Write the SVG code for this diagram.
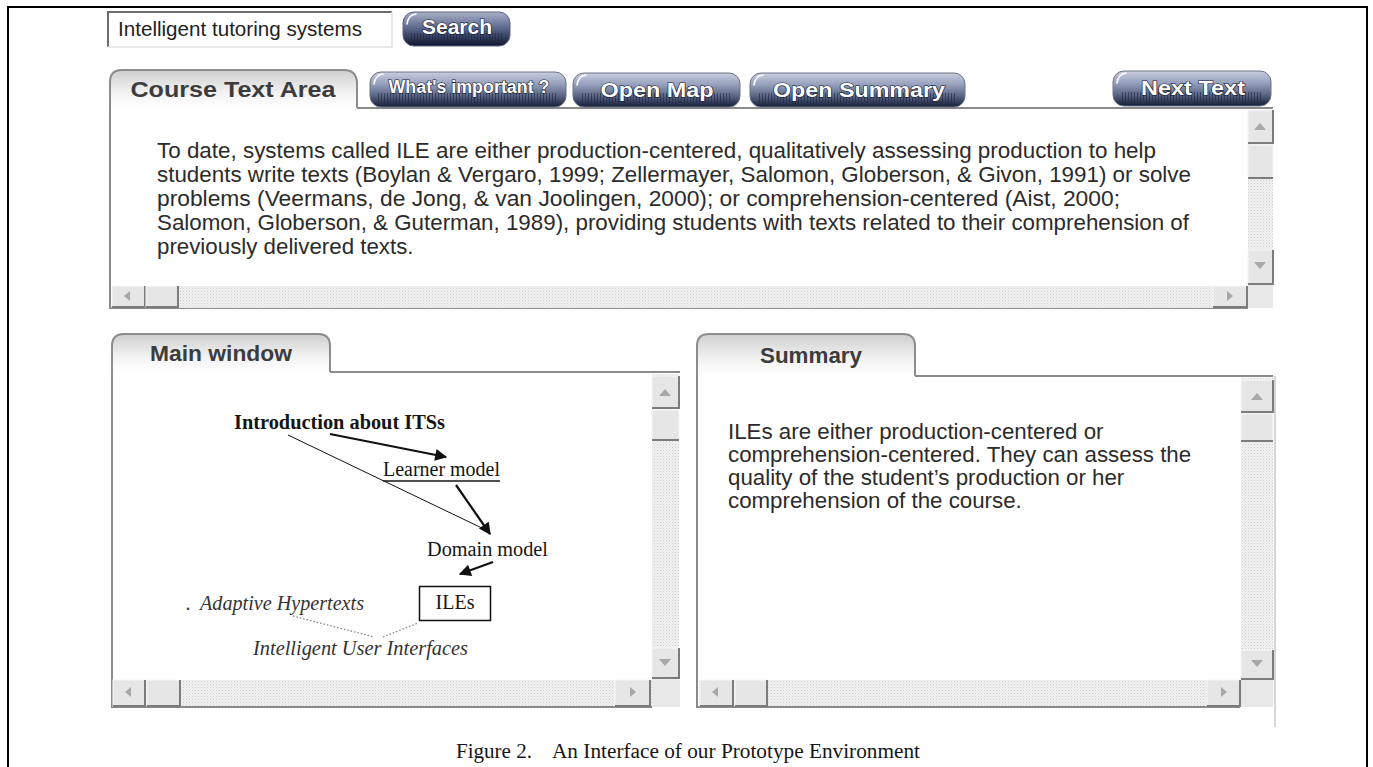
<svg xmlns="http://www.w3.org/2000/svg" width="1373" height="767" viewBox="0 0 1373 767">
<defs>
<style>
.sans{font-family:"Liberation Sans",Arial,sans-serif}
.body{font-family:"Liberation Sans",Arial,sans-serif;font-size:22.3px;fill:#2b2b2b}
.tabt{font-family:"Liberation Sans",Arial,sans-serif;font-size:22px;font-weight:bold;fill:#3c3c3c;text-anchor:middle}
.btnt{font-family:"Liberation Sans",Arial,sans-serif;font-weight:bold;fill:#ffffff;stroke:#0d1431;stroke-width:1.2px;paint-order:stroke;text-anchor:middle}
.ser{font-family:"Liberation Serif","Times New Roman",serif;font-size:20px;fill:#151515}
.it{font-style:italic;fill:#333}
.tab{fill:url(#tabGrad);stroke:#8c8c8c;stroke-width:2}
.edge{stroke:#8a8a8a;stroke-width:2;fill:none}
.track{fill:url(#dots)}
.sbtn{fill:#e6e6e6;stroke:#f8f8f8;stroke-width:1}
.sshade{fill:none;stroke:#7c7c7c;stroke-width:2}
.arr{fill:#a8a8a8}
.btn{fill:url(#btnGrad);stroke:#6d7288;stroke-width:1}
.gloss{fill:none;stroke:#ffffff;stroke-width:1.6;stroke-linecap:round}
.stripe{fill:url(#stripes);opacity:0.55}
.conn{stroke:#111;fill:none}
.dot{stroke:#8a7f86;stroke-width:1.3;stroke-dasharray:1.5 2;fill:none}
</style>
<linearGradient id="btnGrad" x1="0" y1="0" x2="0" y2="1">
<stop offset="0" stop-color="#c9cede"/>
<stop offset="0.35" stop-color="#959fbb"/>
<stop offset="0.7" stop-color="#56617f"/>
<stop offset="1" stop-color="#151c36"/>
</linearGradient>
<linearGradient id="searchGrad" x1="0" y1="0" x2="0" y2="1">
<stop offset="0" stop-color="#a9b1c9"/>
<stop offset="0.45" stop-color="#5f6b8e"/>
<stop offset="1" stop-color="#0f1631"/>
</linearGradient>
<linearGradient id="tabGrad" x1="0" y1="0" x2="0" y2="1">
<stop offset="0" stop-color="#cfcfcf"/>
<stop offset="0.6" stop-color="#f2f2f2"/>
<stop offset="1" stop-color="#ffffff"/>
</linearGradient>
<pattern id="dots" width="3" height="3" patternUnits="userSpaceOnUse">
<rect width="3" height="3" fill="#f1f1f1"/>
<rect width="1" height="1" fill="#cfcfcf"/>
<rect x="1.5" y="1.5" width="1" height="1" fill="#dadada"/>
</pattern>
<pattern id="stripes" width="3" height="4" patternUnits="userSpaceOnUse">
<rect width="1" height="4" fill="#1a2140"/>
</pattern>
<marker id="ah" viewBox="0 0 10 10" refX="9" refY="5" markerWidth="15" markerHeight="12" markerUnits="userSpaceOnUse" orient="auto">
<path d="M0,0 L10,5 L0,10 z" fill="#111"/>
</marker>
</defs>

<rect width="1373" height="767" fill="#ffffff"/>
<path d="M8,767 V7 H1367 V767" fill="none" stroke="#000" stroke-width="2"/>

<!-- search box -->
<g id="search-box">
<rect x="108" y="12" width="284" height="35" fill="#fff"/>
<path d="M108,47 V12 H392" fill="none" stroke="#6e6e6e" stroke-width="2"/>
<path d="M392,12 V47 H108" fill="none" stroke="#e2e2e2" stroke-width="1.5"/>
<text class="sans" x="118" y="36" font-size="20" fill="#222" textLength="244" lengthAdjust="spacingAndGlyphs">Intelligent tutoring systems</text>
</g>

<g id="search-btn">
<rect x="403" y="12" width="107" height="34" rx="11" fill="url(#searchGrad)" stroke="#5c6480"/>
<rect x="410" y="33" width="92" height="9" class="stripe"/>
<path class="gloss" d="M407,24 Q408,15 416,14"/>
<text class="btnt" x="457" y="34" font-size="21">Search</text>
</g>

<!-- Course text area -->
<g id="course-panel">
<rect x="110" y="108" width="1163" height="200" fill="#fff"/>
<path class="tab" d="M110,108 V82 Q110,70 122,70 H344 Q356,70 357,82 V108"/>
<text class="tabt" x="233" y="97" textLength="205" lengthAdjust="spacingAndGlyphs">Course Text Area</text>
<path class="edge" d="M357,108 H1273"/>
<path class="edge" d="M110,108 V308 H1248"/>
<rect x="1248" y="110" width="25" height="175" class="track"/>
<rect x="1248" y="110" width="25" height="33" class="sbtn"/>
<path class="sshade" d="M1248,143 H1273 V110"/>
<path class="arr" d="M1254,130 L1260,123 L1266,130 z"/>
<rect x="1248" y="145" width="25" height="33" class="sbtn"/>
<path class="sshade" d="M1248,178 H1273"/>
<rect x="1248" y="250" width="25" height="34" class="sbtn"/>
<path class="sshade" d="M1248,284 H1273 V250"/>
<path class="arr" d="M1254,262 L1260,269 L1266,262 z"/>
<rect x="1248" y="285" width="25" height="23" fill="#e8e8e8"/>
<rect x="112" y="286" width="1136" height="22" class="track"/>
<rect x="112" y="286" width="33" height="21" class="sbtn"/>
<path class="sshade" d="M112,307 H145 V286"/>
<path class="arr" d="M124,296 L130,291 L130,301 z"/>
<rect x="146" y="286" width="32" height="21" class="sbtn"/>
<path class="sshade" d="M146,307 H178 V286"/>
<rect x="1213" y="286" width="34" height="21" class="sbtn"/>
<path class="sshade" d="M1213,307 H1247 V286"/>
<path class="arr" d="M1233,296 L1227,291 L1227,301 z"/>
<text class="body" x="157" y="158" textLength="999" lengthAdjust="spacingAndGlyphs">To date, systems called ILE are either production-centered, qualitatively assessing production to help</text>
<text class="body" x="157" y="182" textLength="1034" lengthAdjust="spacingAndGlyphs">students write texts (Boylan &amp; Vergaro, 1999; Zellermayer, Salomon, Globerson, &amp; Givon, 1991) or solve</text>
<text class="body" x="157" y="206" textLength="963" lengthAdjust="spacingAndGlyphs">problems (Veermans, de Jong, &amp; van Joolingen, 2000); or comprehension-centered (Aist, 2000;</text>
<text class="body" x="157" y="230" textLength="1032" lengthAdjust="spacingAndGlyphs">Salomon, Globerson, &amp; Guterman, 1989), providing students with texts related to their comprehension of</text>
<text class="body" x="157" y="254">previously delivered texts.</text>
</g>

<!-- toolbar buttons -->
<g id="btn-important">
<rect x="370" y="72" width="196" height="35" rx="11" class="btn"/>
<rect x="378" y="93" width="180" height="10" class="stripe"/>
<path class="gloss" d="M374,84 Q375,75 383,74"/>
<text class="btnt" x="469" y="93" font-size="18" textLength="161" lengthAdjust="spacingAndGlyphs">What's important ?</text>
</g>
<g id="btn-openmap">
<rect x="573" y="73" width="167" height="34" rx="11" class="btn"/>
<rect x="581" y="93" width="151" height="10" class="stripe"/>
<path class="gloss" d="M577,85 Q578,76 586,75"/>
<text class="btnt" x="657" y="97" font-size="21" textLength="113" lengthAdjust="spacingAndGlyphs">Open Map</text>
</g>
<g id="btn-opensummary">
<rect x="750" y="73" width="215" height="34" rx="11" class="btn"/>
<rect x="758" y="93" width="199" height="10" class="stripe"/>
<path class="gloss" d="M754,85 Q755,76 763,75"/>
<text class="btnt" x="859" y="97" font-size="21" textLength="172" lengthAdjust="spacingAndGlyphs">Open Summary</text>
</g>
<g id="btn-nexttext">
<rect x="1113" y="71" width="158" height="35" rx="11" class="btn"/>
<rect x="1121" y="92" width="142" height="10" class="stripe"/>
<path class="gloss" d="M1117,83 Q1118,74 1126,73"/>
<text class="btnt" x="1193" y="95" font-size="21" textLength="104" lengthAdjust="spacingAndGlyphs">Next Text</text>
</g>

<!-- Main window panel -->
<g id="main-panel">
<rect x="112" y="372" width="568" height="335" fill="#fff"/>
<path class="tab" d="M112,372 V346 Q112,334 124,334 H318 Q330,334 330,346 V372"/>
<text class="tabt" x="221" y="361" textLength="142" lengthAdjust="spacingAndGlyphs">Main window</text>
<path class="edge" d="M330,372 H680"/>
<path class="edge" d="M112,372 V707 H652"/>
<rect x="652" y="374" width="27" height="306" class="track"/>
<rect x="652" y="376" width="27" height="32" class="sbtn"/>
<path class="sshade" d="M652,408 H679 V376"/>
<path class="arr" d="M659,396 L665,389 L671,396 z"/>
<rect x="652" y="410" width="27" height="30" class="sbtn"/>
<path class="sshade" d="M652,440 H679"/>
<rect x="652" y="648" width="27" height="30" class="sbtn"/>
<path class="sshade" d="M652,678 H679 V648"/>
<path class="arr" d="M659,659 L665,666 L671,659 z"/>
<rect x="652" y="680" width="28" height="27" fill="#e8e8e8"/>
<rect x="113" y="680" width="539" height="26" class="track"/>
<rect x="113" y="680" width="32" height="26" class="sbtn"/>
<path class="sshade" d="M113,706 H145 V680"/>
<path class="arr" d="M125,692 L131,687 L131,697 z"/>
<rect x="147" y="680" width="33" height="26" class="sbtn"/>
<path class="sshade" d="M147,706 H180 V680"/>
<rect x="615" y="680" width="35" height="26" class="sbtn"/>
<path class="sshade" d="M615,706 H650 V680"/>
<path class="arr" d="M636,692 L630,687 L630,697 z"/>
</g>

<!-- map nodes -->
<g id="node-intro"><text class="ser" x="234" y="429" font-weight="bold" textLength="211" lengthAdjust="spacingAndGlyphs">Introduction about ITSs</text></g>
<g id="node-learner"><text class="ser" x="383" y="476" textLength="117" lengthAdjust="spacingAndGlyphs">Learner model</text><line x1="383" y1="481" x2="500" y2="481" stroke="#151515" stroke-width="1.3"/></g>
<g id="node-domain"><text class="ser" x="427" y="556" textLength="121" lengthAdjust="spacingAndGlyphs">Domain model</text></g>
<g id="node-iles"><rect x="419.5" y="586.5" width="71" height="34" fill="#fff" stroke="#111" stroke-width="1.5"/><text class="ser" x="455" y="609" text-anchor="middle">ILEs</text></g>
<g id="node-adaptive"><text class="ser it" x="186" y="610">.</text><text class="ser it" x="200" y="610" textLength="164" lengthAdjust="spacingAndGlyphs">Adaptive Hypertexts</text></g>
<g id="node-iui"><text class="ser it" x="253" y="655" textLength="215" lengthAdjust="spacingAndGlyphs">Intelligent User Interfaces</text></g>

<g id="connectors">
<line class="conn" x1="330" y1="434" x2="446" y2="457" stroke-width="2.2" marker-end="url(#ah)"/>
<line class="conn" x1="288" y1="435" x2="486" y2="530" stroke-width="1"/>
<line class="conn" x1="456" y1="485" x2="490" y2="534" stroke-width="2.2" marker-end="url(#ah)"/>
<line class="conn" x1="493" y1="562" x2="460" y2="574" stroke-width="2.2" marker-end="url(#ah)"/>
<path class="dot" d="M293,616 L374,637"/>
<path class="dot" d="M383,637 L418,623"/>
</g>

<!-- Summary panel -->
<g id="summary-panel">
<rect x="697" y="376" width="576" height="331" fill="#fff"/>
<path class="tab" d="M697,376 V346 Q697,334 709,334 H903 Q915,334 915,346 V376"/>
<text class="tabt" x="811" y="363" textLength="102" lengthAdjust="spacingAndGlyphs">Summary</text>
<path class="edge" d="M915,376 H1273"/>
<path class="edge" d="M697,376 V707 H1240"/>
<line x1="1275" y1="376" x2="1275" y2="727" stroke="#c8c8c8" stroke-width="1.5"/>
<rect x="1241" y="378" width="32" height="302" class="track"/>
<rect x="1241" y="380" width="32" height="32" class="sbtn"/>
<path class="sshade" d="M1241,412 H1273 V380"/>
<path class="arr" d="M1251,400 L1257,393 L1263,400 z"/>
<rect x="1241" y="414" width="32" height="27" class="sbtn"/>
<path class="sshade" d="M1241,441 H1273"/>
<rect x="1241" y="650" width="32" height="29" class="sbtn"/>
<path class="sshade" d="M1241,679 H1273 V650"/>
<path class="arr" d="M1251,660 L1257,667 L1263,660 z"/>
<rect x="1241" y="680" width="32" height="27" fill="#e8e8e8"/>
<rect x="699" y="680" width="542" height="26" class="track"/>
<rect x="700" y="680" width="33" height="26" class="sbtn"/>
<path class="sshade" d="M700,706 H733 V680"/>
<path class="arr" d="M712,692 L718,687 L718,697 z"/>
<rect x="735" y="680" width="32" height="26" class="sbtn"/>
<path class="sshade" d="M735,706 H767 V680"/>
<rect x="1207" y="680" width="33" height="26" class="sbtn"/>
<path class="sshade" d="M1207,706 H1240 V680"/>
<path class="arr" d="M1227,692 L1221,687 L1221,697 z"/>
<text class="body" x="728" y="439">ILEs are either production-centered or</text>
<text class="body" x="728" y="462">comprehension-centered. They can assess the</text>
<text class="body" x="728" y="485">quality of the student’s production or her</text>
<text class="body" x="728" y="508">comprehension of the course.</text>
</g>

<g id="caption">
<text class="ser" x="456" y="758" font-size="21" textLength="76" lengthAdjust="spacingAndGlyphs">Figure 2.</text>
<text class="ser" x="552" y="758" font-size="21" textLength="368" lengthAdjust="spacingAndGlyphs">An Interface of our Prototype Environment</text>
</g>
</svg>
